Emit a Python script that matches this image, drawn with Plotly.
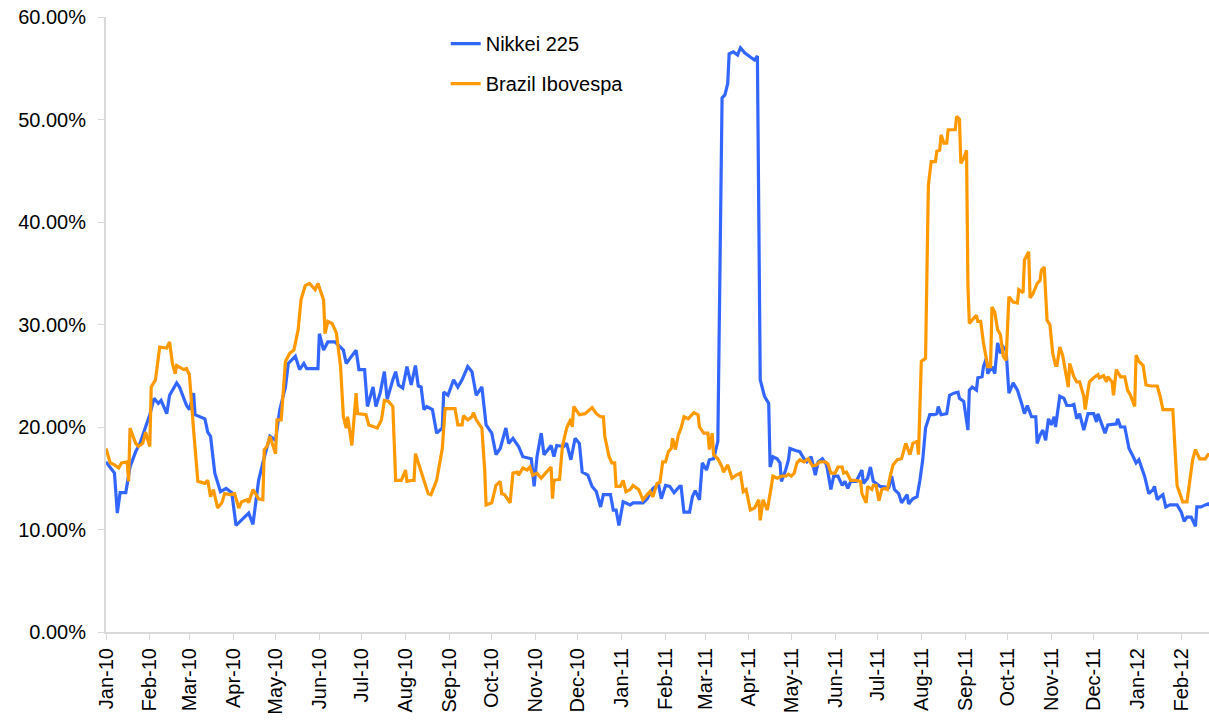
import pandas as pd
import plotly.graph_objects as go

START = pd.Timestamp("2010-01-01")

# Nikkei 225 volatility: (days since 2010-01-01, value in %)
nikkei_day = [0, 3, 6, 8, 10, 14, 17, 21, 24, 28, 31, 34, 37, 39, 43, 45, 50, 52, 57, 59, 62, 63, 70, 72, 74, 77, 81, 85, 89, 92,
              97, 101, 104, 108, 111, 116, 120, 123, 127, 129, 134, 137, 140, 142, 150, 151, 154, 157, 162, 168, 170, 175, 177, 179, 183, 185, 189, 191, 194, 197,
              199, 203, 205, 207, 210, 213, 216, 219, 221, 223, 225, 227, 231, 234, 238, 239, 242, 246, 249, 252, 256, 259, 262, 266, 269, 273, 276, 279, 283, 285,
              288, 292, 295, 301, 303, 305, 308, 310, 313, 315, 317, 319, 324, 326, 329, 332, 335, 337, 341, 344, 347, 350, 352, 357, 359, 361, 363, 366, 371, 373,
              380, 383, 387, 391, 393, 396, 399, 402, 406, 407, 409, 413, 415, 417, 420, 422, 425, 427, 430, 432, 433, 436, 438, 440, 441, 444, 447, 449, 452, 456,
              459, 461, 462, 463, 466, 469, 470, 472, 475, 477, 478, 481, 483, 484, 488, 491, 494, 496, 499, 502, 504, 507, 510, 513, 515, 518, 521, 523, 525, 527,
              531, 534, 535, 536, 539, 541, 543, 548, 554, 556, 558, 561, 563, 567, 568, 571, 574, 576, 577, 578, 580, 583, 586, 588, 589, 591, 595, 597, 600, 603,
              604, 607, 610, 611, 613, 616, 617, 620, 621, 623, 624, 627, 629, 631, 633, 635, 637, 639, 642, 645, 648, 650, 652, 655, 658, 659, 661, 663, 665, 667,
              669, 671, 672, 675, 678, 680, 683, 685, 687, 689, 692, 694, 695, 699, 701, 702, 705, 707, 709, 715, 716, 718, 721, 724, 727, 729, 731, 733, 735, 738,
              741, 742, 744, 746, 748, 750, 753, 758, 761, 763, 765, 768, 771, 772, 775, 778, 780, 782]
nikkei_vol = [16.6, 16.1, 15.5, 11.6, 13.6, 13.6, 16.1, 17.6, 18.4, 20.0, 21.2, 22.8, 22.3, 22.6, 21.3, 23.1, 24.3, 23.9, 22.1, 21.7, 23.3, 21.2, 20.8, 19.5, 19.1, 15.5, 13.7, 14.0, 13.6, 10.4,
              11.1, 11.6, 10.5, 14.8, 16.5, 19.1, 18.7, 21.7, 23.9, 26.2, 26.9, 25.6, 26.2, 25.7, 25.7, 29.1, 27.5, 28.3, 28.3, 27.5, 26.2, 27.2, 27.5, 25.6, 25.6, 22.0, 23.9, 22.0, 23.3, 25.4,
              22.7, 24.6, 25.4, 24.1, 23.8, 25.9, 24.1, 26.0, 24.0, 23.9, 21.7, 22.0, 21.7, 19.4, 19.9, 23.4, 23.1, 24.6, 23.9, 24.6, 25.9, 25.4, 23.1, 23.9, 20.2, 19.4, 17.3, 17.9, 19.9, 18.4,
              18.9, 18.1, 17.1, 16.9, 14.2, 17.1, 19.4, 17.3, 17.9, 18.2, 17.1, 18.2, 18.1, 18.4, 16.8, 18.9, 18.4, 15.6, 15.3, 14.2, 13.7, 12.2, 13.4, 13.4, 11.9, 11.9, 10.4, 12.7, 12.4, 12.6,
              12.6, 13.0, 14.0, 14.4, 13.0, 14.3, 14.2, 13.6, 14.2, 14.2, 11.7, 11.7, 13.2, 13.8, 12.9, 16.5, 15.8, 16.8, 16.9, 18.2, 18.6, 52.1, 52.4, 53.5, 56.4, 56.6, 56.3, 57.0, 56.5, 56.1,
              55.8, 56.2, 40.0, 24.6, 23.0, 22.3, 16.1, 17.1, 16.9, 16.5, 14.7, 15.8, 16.8, 17.9, 17.7, 17.6, 16.9, 16.6, 17.1, 15.3, 16.6, 16.9, 16.3, 13.9, 15.2, 15.2, 14.3, 14.7, 14.0, 14.7,
              14.7, 15.5, 15.8, 14.5, 15.0, 16.1, 14.7, 14.2, 14.1, 15.2, 13.9, 13.5, 12.6, 13.4, 12.5, 13.0, 13.2, 14.8, 15.8, 16.8, 19.9, 21.2, 21.2, 21.3, 22.0, 21.2, 21.3, 23.1, 23.3, 23.4,
              22.8, 22.5, 19.7, 23.6, 23.9, 23.6, 24.8, 24.9, 25.9, 26.7, 25.2, 25.9, 25.2, 28.2, 27.2, 27.8, 27.5, 23.3, 24.3, 23.6, 22.3, 21.3, 22.1, 21.0, 21.0, 18.4, 19.2, 19.7, 18.7, 20.8,
              20.2, 21.0, 20.0, 23.0, 22.8, 22.1, 22.1, 22.2, 20.8, 21.3, 19.7, 20.7, 21.3, 21.3, 20.5, 21.3, 20.2, 19.4, 20.2, 20.3, 20.8, 20.0, 20.0, 17.9, 17.1, 16.5, 16.8, 16.0, 15.2, 13.5,
              13.9, 14.2, 12.9, 13.2, 13.4, 12.2, 12.4, 12.4, 11.7, 10.8, 11.2, 11.2, 10.3, 12.2, 12.2, 12.4, 12.5, 12.3]

# Brazil Ibovespa volatility: (days since 2010-01-01, value in %)
ibov_day = [0, 3, 6, 9, 11, 15, 16, 17, 21, 23, 26, 28, 31, 32, 35, 37, 38, 43, 45, 47, 49, 50, 55, 57, 59, 62, 64, 65, 70, 72,
            74, 76, 79, 82, 84, 88, 91, 94, 96, 100, 101, 104, 108, 111, 112, 114, 116, 120, 121, 124, 127, 130, 133, 136, 138, 141, 144, 148, 150, 154,
            155, 157, 160, 163, 166, 168, 170, 171, 174, 177, 178, 184, 186, 192, 195, 197, 200, 203, 205, 209, 212, 213, 217, 218, 219, 222, 226, 228, 230, 234,
            238, 240, 247, 249, 252, 253, 256, 259, 260, 262, 266, 268, 269, 273, 276, 279, 280, 282, 286, 288, 291, 292, 295, 298, 300, 302, 305, 308, 311, 315,
            316, 317, 321, 323, 326, 329, 330, 331, 335, 339, 344, 347, 350, 352, 353, 356, 358, 360, 361, 364, 366, 368, 371, 373, 377, 380, 383, 385, 387, 390,
            392, 394, 396, 398, 400, 401, 403, 405, 407, 409, 412, 416, 419, 420, 423, 426, 427, 429, 430, 433, 436, 437, 440, 443, 446, 449, 451, 453, 456, 459,
            462, 463, 465, 468, 470, 472, 475, 478, 481, 483, 485, 487, 489, 491, 494, 497, 500, 503, 505, 509, 511, 513, 516, 518, 521, 522, 524, 527, 530, 534,
            535, 538, 539, 542, 543, 545, 547, 549, 551, 553, 555, 557, 560, 563, 566, 569, 571, 574, 575, 577, 580, 582, 584, 587, 588, 590, 591, 593, 595, 596,
            601, 602, 604, 605, 607, 609, 610, 611, 614, 616, 617, 619, 621, 623, 624, 626, 627, 629, 631, 633, 635, 637, 639, 642, 645, 646, 649, 650, 652, 653,
            654, 656, 659, 661, 662, 664, 666, 668, 670, 672, 673, 675, 677, 680, 681, 682, 685, 687, 689, 692, 693, 695, 696, 699, 702, 703, 706, 708, 709, 712,
            713, 715, 718, 721, 723, 725, 728, 729, 731, 734, 736, 740, 744, 746, 748, 755, 756, 758, 760, 762, 765, 767, 769, 771, 774, 778, 780, 782]
ibov_vol = [17.9, 16.5, 16.3, 16.0, 16.5, 16.6, 14.7, 19.9, 18.4, 18.1, 18.4, 19.5, 18.1, 23.9, 24.6, 26.9, 27.8, 27.7, 28.3, 26.2, 25.2, 26.0, 25.6, 25.7, 25.1, 19.7, 16.1, 14.7, 14.5, 14.8,
            13.2, 13.9, 12.1, 12.6, 13.5, 13.4, 13.5, 12.1, 12.7, 12.9, 12.6, 13.9, 13.0, 12.9, 17.8, 18.1, 19.1, 17.4, 20.7, 20.7, 26.4, 27.2, 27.5, 29.5, 32.4, 33.8, 34.0, 33.4, 34.0, 32.4,
            29.1, 30.3, 30.1, 29.2, 25.9, 21.0, 19.9, 21.0, 18.2, 23.3, 21.3, 21.2, 20.2, 19.9, 20.7, 22.6, 22.5, 22.0, 14.8, 14.8, 15.8, 14.7, 14.8, 14.8, 17.4, 16.1, 14.5, 13.5, 13.4, 14.8,
            17.9, 21.8, 21.8, 20.2, 20.2, 21.1, 20.7, 21.0, 21.4, 20.7, 19.9, 15.8, 12.4, 12.6, 14.3, 14.7, 13.5, 13.4, 12.6, 15.5, 15.6, 15.3, 16.0, 15.8, 16.1, 15.3, 15.5, 15.0, 15.5, 16.1,
            13.0, 14.8, 14.9, 18.1, 19.9, 20.8, 20.0, 22.0, 21.2, 21.3, 21.9, 21.3, 21.0, 21.0, 19.1, 17.1, 16.5, 16.5, 14.2, 14.2, 14.8, 13.7, 13.9, 14.3, 13.9, 12.9, 13.4, 13.7, 13.2, 14.5,
            14.6, 16.6, 16.6, 17.6, 17.9, 18.9, 17.8, 19.2, 19.9, 21.0, 20.8, 21.4, 21.2, 20.0, 19.4, 19.4, 17.8, 19.4, 17.3, 16.9, 16.1, 15.6, 16.3, 15.0, 15.3, 15.5, 13.7, 13.9, 11.9, 12.1,
            12.9, 10.9, 12.9, 11.9, 13.5, 15.2, 15.0, 15.2, 15.2, 15.4, 15.2, 15.5, 16.5, 16.8, 16.6, 16.9, 16.2, 16.3, 16.6, 16.6, 16.4, 15.5, 15.5, 16.1, 16.1, 15.5, 15.6, 14.8, 14.8, 14.7,
            13.5, 12.6, 14.2, 13.9, 14.3, 14.3, 12.8, 13.9, 14.0, 13.9, 15.2, 16.3, 16.8, 16.9, 18.4, 17.3, 18.4, 18.6, 17.3, 26.4, 26.7, 43.6, 45.9, 45.9, 46.9, 47.0, 48.5, 47.7, 47.7, 49.0,
            49.0, 50.3, 50.0, 45.7, 46.2, 47.0, 33.7, 30.1, 30.6, 30.9, 30.3, 30.3, 28.2, 26.7, 25.9, 25.9, 31.7, 31.2, 29.5, 29.0, 26.9, 26.5, 32.7, 32.2, 32.1, 33.4, 33.1, 36.3, 36.8, 37.1,
            32.6, 33.0, 34.0, 34.3, 35.3, 35.6, 30.4, 30.0, 27.2, 26.0, 26.0, 27.8, 27.0, 24.3, 23.9, 26.2, 24.9, 24.4, 24.4, 23.0, 21.7, 23.6, 24.4, 24.8, 25.1, 24.8, 25.0, 24.4, 24.9, 24.4,
            23.1, 25.6, 24.9, 24.9, 23.6, 23.1, 22.0, 27.0, 26.4, 26.0, 24.1, 24.0, 24.0, 23.0, 21.7, 21.7, 18.7, 14.3, 13.5, 12.7, 12.7, 14.5, 16.8, 17.8, 16.9, 16.9, 17.3, 17.3]

SERIES_NAMES = ["Nikkei 225", "Brazil Ibovespa"]
COLORS = ["#3366FF", "#FF9900"]


def to_dates(days):
    return [START + pd.Timedelta(days=d) for d in days]


fig = go.Figure()
for i, (days, vals) in enumerate([(nikkei_day, nikkei_vol), (ibov_day, ibov_vol)]):
    fig.add_trace(go.Scatter(
        x=to_dates(days), y=[v / 100 for v in vals], mode="lines",
        name=SERIES_NAMES[i], legendgroup=SERIES_NAMES[i],
        line=dict(color=COLORS[i], width=3.2),
    ))

FONT = "Arial, Liberation Sans, sans-serif"
fig.update_layout(
    width=1209, height=721,
    margin=dict(l=106, r=0, t=17, b=89),
    plot_bgcolor="white", paper_bgcolor="white",
    font=dict(family=FONT, size=20, color="black"),
    showlegend=True,
    legend=dict(x=0.308, y=0.9885, xanchor="left", yanchor="top",
                bgcolor="rgba(0,0,0,0)", tracegroupgap=11,
                font=dict(family=FONT, size=20, color="black")),
    xaxis=dict(
        type="date",
        range=[START, START + pd.Timedelta(days=780.6)],
        tick0="2010-01-01", dtick="M1", tickformat="%b-%y",
        tickangle=-90, ticks="outside", ticklen=6, tickcolor="#d9d9d9",
        showline=True, linecolor="#d9d9d9", linewidth=2,
        showgrid=False, zeroline=False, automargin=False,
        tickfont=dict(family=FONT, size=20, color="black"),
    ),
    yaxis=dict(
        range=[0, 0.6], dtick=0.1, tickformat=".2%",
        ticks="outside", ticklen=6, tickcolor="#d9d9d9",
        showline=True, linecolor="#d9d9d9", linewidth=2,
        showgrid=False, zeroline=False, automargin=False,
        tickfont=dict(family=FONT, size=20, color="black"),
        ticklabelstandoff=8,
    ),
)

fig.write_html(
    "out.html",
    config={"displayModeBar": False},
    post_script="document.body.style.margin='0';document.body.style.overflow='hidden';",
)
